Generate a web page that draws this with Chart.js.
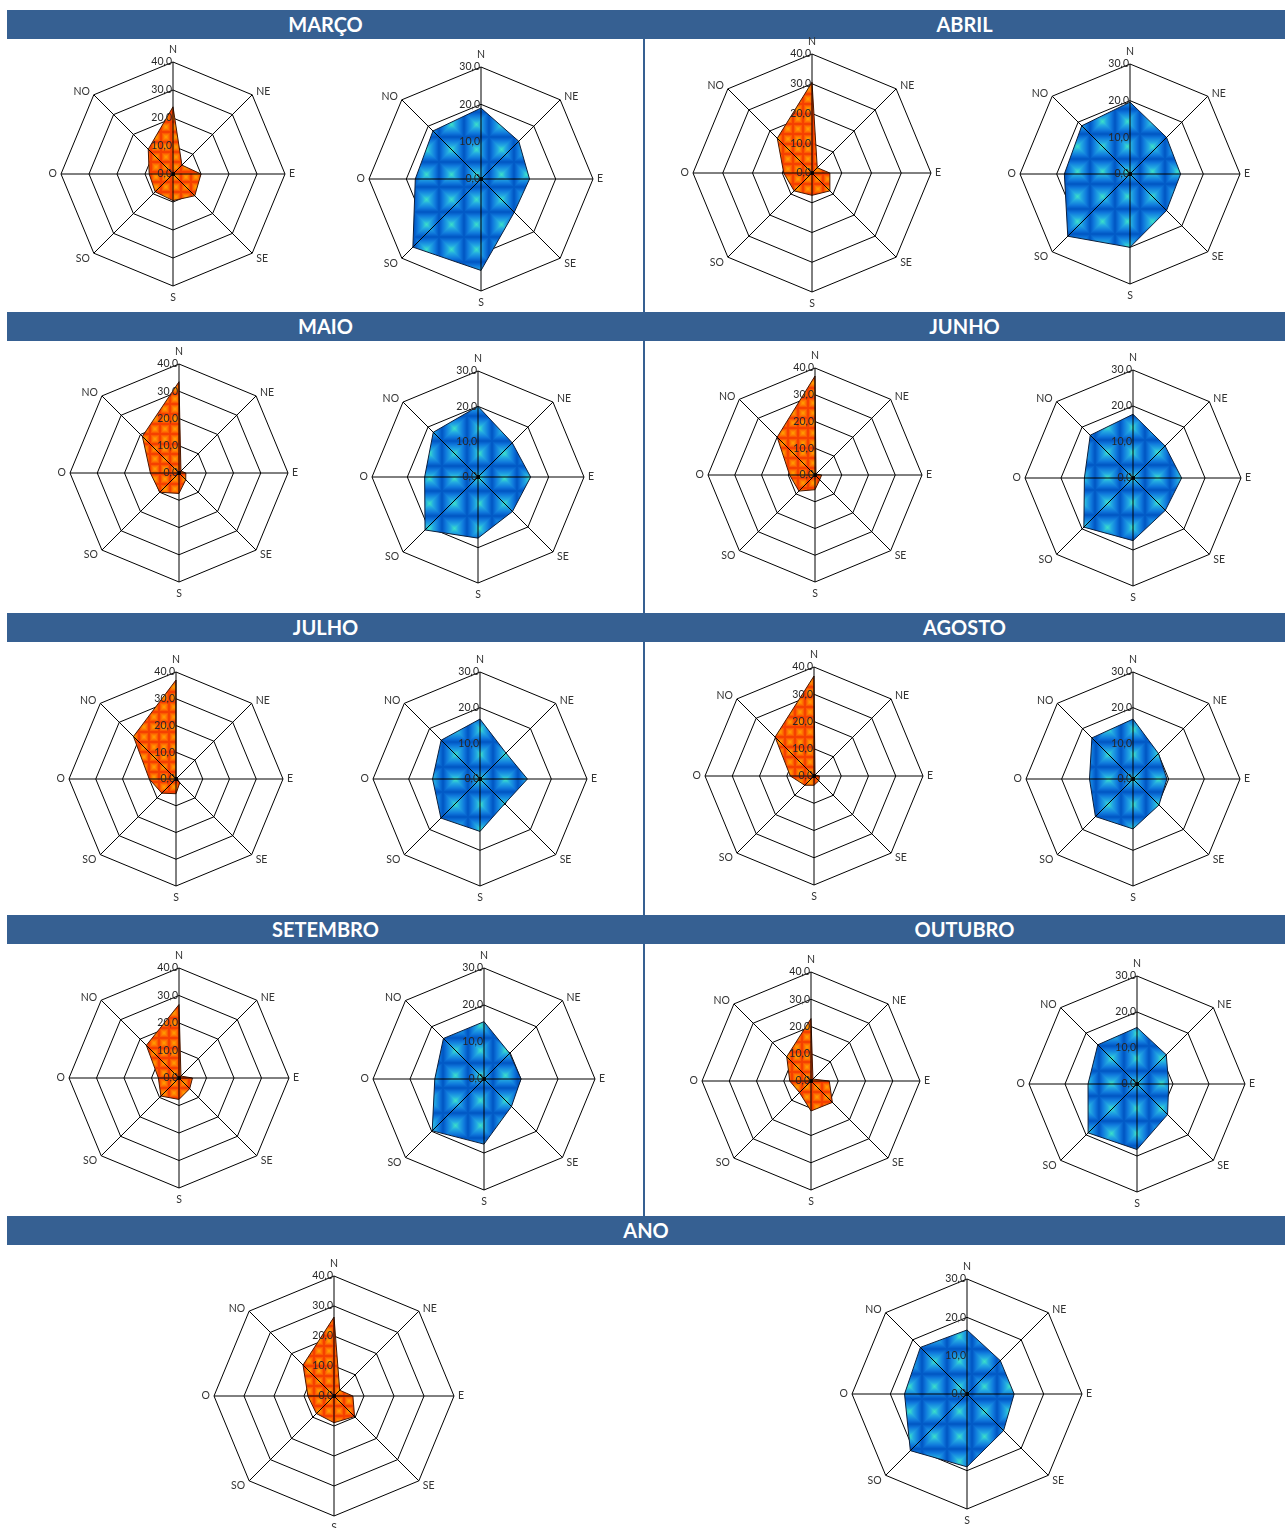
<!DOCTYPE html>
<html>
<head>
<meta charset="utf-8">
<script src="https://cdn.jsdelivr.net/npm/chart.js@4.4.1/dist/chart.umd.min.js"></script>
<style>
  html, body { margin: 0; padding: 0; background: #ffffff; }
  #page { position: relative; width: 1285px; height: 1528px; overflow: hidden; font-family: Lato, "Open Sans", sans-serif; }
  .bar { position: absolute; background: #366092; color: #ffffff; font-weight: bold; font-size: 20px; text-align: center; }
  .sep { position: absolute; background: #366092; }
  canvas { position: absolute; }
</style>
</head>
<body>
<div id="page"></div>
<script>
// Wind directions (clockwise from north)
const directions = ['N', 'NE', 'E', 'SE', 'S', 'SO', 'O', 'NO'];
const periods = ['MARÇO', 'ABRIL', 'MAIO', 'JUNHO', 'JULHO', 'AGOSTO', 'SETEMBRO', 'OUTUBRO', 'ANO'];

// Frequency by direction (%), scale 0–40
const freqMarco    = [24.0, 4.5, 10.0, 11.0, 9.5, 9.0, 8.5, 12.5];
const freqAbril    = [30.5, 2.5, 6.0, 8.5, 7.5, 8.5, 9.5, 16.5];
const freqMaio     = [33.5, 1.0, 2.5, 3.5, 7.5, 10.0, 10.5, 19.0];
const freqJunho    = [37.0, 0.5, 2.5, 2.5, 5.5, 8.5, 9.5, 20.0];
const freqJulho    = [37.0, 0.0, 0.5, 2.0, 5.5, 7.5, 10.0, 22.5];
const freqAgosto   = [36.7, 0.5, 2.0, 2.5, 3.4, 4.8, 8.7, 20.2];
const freqSetembro = [26.7, 1.0, 4.9, 5.5, 7.8, 9.3, 7.5, 16.8];
const freqOutubro  = [22.9, 1.0, 6.7, 11.1, 11.0, 6.0, 7.8, 12.6];
const freqAno      = [26.3, 2.7, 6.3, 9.7, 8.9, 8.3, 8.7, 14.6];

// Mean speed by direction, scale 0–30
const velMarco    = [19.0, 14.3, 13.0, 12.6, 24.5, 25.8, 17.6, 18.2];
const velAbril    = [19.6, 14.1, 13.8, 14.1, 20.0, 24.0, 17.9, 18.6];
const velMaio     = [20.0, 13.7, 14.9, 13.8, 17.3, 21.2, 15.1, 17.9];
const velJunho    = [17.7, 12.6, 13.5, 12.7, 17.4, 19.3, 13.5, 16.8];
const velJulho    = [16.8, 10.3, 13.3, 9.8, 14.7, 15.5, 13.3, 15.4];
const velAgosto   = [16.8, 10.1, 9.5, 10.3, 14.0, 14.9, 12.2, 16.3];
const velSetembro = [15.5, 9.8, 10.0, 10.5, 17.6, 19.8, 13.3, 15.5];
const velOutubro  = [15.7, 11.5, 8.8, 12.0, 18.2, 19.2, 13.6, 15.4];
const velAno      = [16.7, 12.3, 12.3, 13.5, 19.0, 20.9, 16.3, 17.2];

// Axis ranges
const freqMax = 40;
const velMax = 30;
const tickStep = 10;

const page = document.getElementById('page');

// ---- page frame: title bars and the vertical divider ----
const BAR_H = 29;
const rowTops = [10, 312, 613, 915];
function addBar(x, y, w, text) {
  const d = document.createElement('div');
  d.className = 'bar';
  d.style.left = x + 'px'; d.style.top = y + 'px';
  d.style.width = w + 'px'; d.style.height = BAR_H + 'px';
  d.style.lineHeight = BAR_H + 'px';
  d.textContent = text;
  page.appendChild(d);
}
const sep = document.createElement('div');
sep.className = 'sep';
sep.style.left = '643px'; sep.style.top = '38px'; sep.style.width = '2px'; sep.style.height = '1180px';
page.appendChild(sep);
rowTops.forEach((y, i) => {
  addBar(7, y, 637, periods[i * 2]);
  addBar(644, y, 641, periods[i * 2 + 1]);
});
addBar(7, 1216, 1278, periods[8]);

// ---- fill textures ----
function mix(stops, d) {
  for (let k = 1; k < stops.length; k++) {
    if (d <= stops[k][0]) {
      const a = stops[k - 1], b = stops[k];
      const t = (d - a[0]) / (b[0] - a[0]);
      return [0, 1, 2].map(j => Math.round(a[1][j] + (b[1][j] - a[1][j]) * t));
    }
  }
  return stops[stops.length - 1][1];
}
function makeTile(size, stops) {
  const c = document.createElement('canvas');
  c.width = size; c.height = size;
  const g = c.getContext('2d');
  const img = g.createImageData(size, size);
  const h = size / 2;
  for (let y = 0; y < size; y++) {
    for (let x = 0; x < size; x++) {
      const d = Math.min(1, Math.max(Math.abs(x + 0.5 - h), Math.abs(y + 0.5 - h)) / h);
      const col = mix(stops, d);
      const o = (y * size + x) * 4;
      img.data[o] = col[0]; img.data[o + 1] = col[1]; img.data[o + 2] = col[2]; img.data[o + 3] = 255;
    }
  }
  g.putImageData(img, 0, 0);
  return g.createPattern(c, 'repeat');
}
const orangeFill = makeTile(10, [
  [0, [255, 160, 0]], [0.4, [255, 125, 0]], [0.75, [252, 85, 0]], [1, [240, 50, 0]]
]);
const blueFill = makeTile(25, [
  [0, [60, 225, 200]], [0.3, [35, 170, 225]], [0.7, [15, 120, 220]], [1, [0, 85, 195]]
]);

// ---- overlay drawn on top of the filled area: spokes, values, direction names ----
const fmt = v => v.toFixed(1).replace('.', ',');
const labelPlace = [
  { dx: 0, dy: -12, align: 'center' },  // N
  { dx: 4, dy: -3, align: 'left' },     // NE
  { dx: 4, dy: 0, align: 'left' },      // E
  { dx: 4, dy: 5, align: 'left' },      // SE
  { dx: 0, dy: 12, align: 'center' },   // S
  { dx: -4, dy: 5, align: 'right' },    // SO
  { dx: -4, dy: 0, align: 'right' },    // O
  { dx: -4, dy: -3, align: 'right' }    // NO
];
const overlay = {
  id: 'overlay',
  afterDatasetsDraw(chart) {
    const s = chart.scales.r;
    const ctx = chart.ctx;
    const n = chart.data.labels.length;
    const R = s.drawingArea;
    ctx.save();
    ctx.strokeStyle = '#000000';
    ctx.lineWidth = 1;
    ctx.beginPath();
    for (let i = 0; i < n; i++) {
      const p = s.getPointPosition(i, R);
      ctx.moveTo(s.xCenter, s.yCenter);
      ctx.lineTo(p.x, p.y);
    }
    ctx.stroke();
    ctx.fillStyle = '#000000';
    ctx.beginPath();
    ctx.arc(s.xCenter, s.yCenter, 2, 0, Math.PI * 2);
    ctx.fill();

    ctx.font = '10.5px Lato, "Open Sans", sans-serif';
    ctx.fillStyle = '#262626';
    ctx.textAlign = 'right';
    ctx.textBaseline = 'middle';
    s.ticks.forEach(t => {
      const d = s.getDistanceFromCenterForValue(t.value);
      ctx.fillText(fmt(t.value), s.xCenter - 1, s.yCenter - d);
    });

    ctx.font = '10.5px Lato, "Open Sans", sans-serif';
    ctx.fillStyle = '#333333';
    for (let i = 0; i < n; i++) {
      const p = s.getPointPosition(i, R);
      const pl = labelPlace[i];
      ctx.textAlign = pl.align;
      ctx.fillText(chart.data.labels[i], p.x + pl.dx, p.y + pl.dy);
    }
    ctx.restore();
  }
};

// ---- one radar per panel ----
const PAD = 30;
function radar(cx, cy, r, values, max, fill, border) {
  const c = document.createElement('canvas');
  const size = 2 * r + 2 * PAD;
  c.width = size; c.height = size;
  c.style.width = size + 'px'; c.style.height = size + 'px';
  c.style.left = (cx - r - PAD) + 'px';
  c.style.top = (cy - r - PAD) + 'px';
  page.appendChild(c);
  new Chart(c, {
    type: 'radar',
    data: {
      labels: directions,
      datasets: [{
        data: values,
        backgroundColor: fill,
        borderColor: border,
        borderWidth: 1,
        pointRadius: 0,
        pointHoverRadius: 0,
        fill: true,
        tension: 0
      }]
    },
    options: {
      responsive: false,
      animation: false,
      devicePixelRatio: 1,
      layout: { padding: PAD },
      plugins: { legend: { display: false }, tooltip: { enabled: false } },
      scales: {
        r: {
          min: 0,
          max: max,
          ticks: { stepSize: tickStep, display: false },
          grid: { color: '#000000', lineWidth: 1, circular: false },
          angleLines: { display: false },
          pointLabels: { display: false }
        }
      }
    },
    plugins: [overlay]
  });
}

const ORANGE_EDGE = '#4a1800';
const BLUE_EDGE = '#0b1e3c';

// panel centres and radii (px)
radar(173, 174, 112, freqMarco, freqMax, orangeFill, ORANGE_EDGE);
radar(481, 179, 112, velMarco, velMax, blueFill, BLUE_EDGE);
radar(812, 173, 119, freqAbril, freqMax, orangeFill, ORANGE_EDGE);
radar(1130, 174, 110, velAbril, velMax, blueFill, BLUE_EDGE);

radar(179, 473, 109, freqMaio, freqMax, orangeFill, ORANGE_EDGE);
radar(478, 477, 106, velMaio, velMax, blueFill, BLUE_EDGE);
radar(815, 475, 107, freqJunho, freqMax, orangeFill, ORANGE_EDGE);
radar(1133, 478, 108, velJunho, velMax, blueFill, BLUE_EDGE);

radar(176, 779, 107, freqJulho, freqMax, orangeFill, ORANGE_EDGE);
radar(480, 779, 107, velJulho, velMax, blueFill, BLUE_EDGE);
radar(814, 776, 109, freqAgosto, freqMax, orangeFill, ORANGE_EDGE);
radar(1133, 779, 107, velAgosto, velMax, blueFill, BLUE_EDGE);

radar(179, 1078, 110, freqSetembro, freqMax, orangeFill, ORANGE_EDGE);
radar(484, 1079, 111, velSetembro, velMax, blueFill, BLUE_EDGE);
radar(811, 1081, 109, freqOutubro, freqMax, orangeFill, ORANGE_EDGE);
radar(1137, 1084, 108, velOutubro, velMax, blueFill, BLUE_EDGE);

radar(334, 1396, 120, freqAno, freqMax, orangeFill, ORANGE_EDGE);
radar(967, 1394, 115, velAno, velMax, blueFill, BLUE_EDGE);
</script>
</body>
</html>
